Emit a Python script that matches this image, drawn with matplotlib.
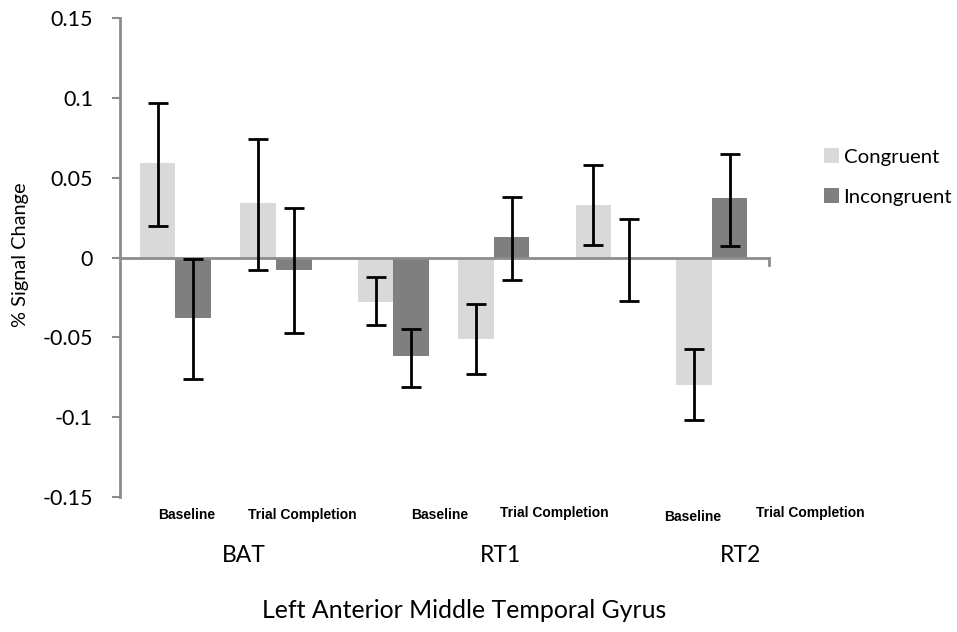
import numpy as np
import matplotlib
matplotlib.use("Agg")
import matplotlib.pyplot as plt

plt.rcParams["font.family"] = ["Lato", "DejaVu Sans"]

# ── Data ─────────────────────────────────────────────
conditions  = ["Baseline", "Trial Completion"] * 3
tasks       = ["BAT", "RT1", "RT2"]
congruent   = [0.059, 0.034, -0.028, -0.051, 0.033, -0.080]
cong_lo     = [0.020, -0.008, -0.042, -0.073, 0.008, -0.102]
cong_hi     = [0.097, 0.074, -0.012, -0.029, 0.058, -0.057]
incongruent = [-0.038, -0.008, -0.062, 0.013, 0.000, 0.037]
incong_lo   = [-0.076, -0.047, -0.081, -0.014, -0.027, 0.007]
incong_hi   = [-0.001, 0.031, -0.045, 0.038, 0.024, 0.065]

C_COL = "#d9d9d9"
I_COL = "#7f7f7f"
AX_COL = "#8c8c8c"

W, H = 957, 632
fig = plt.figure(figsize=(W / 100, H / 100), dpi=100)
ax = fig.add_axes([120 / W, 1 - 497 / H, 650 / W, 479 / H])

# bar pairs; tasks are spaced a bit wider than conditions
x = np.arange(6) + np.repeat(np.arange(3), 2) * 0.17
bw = 0.355

cong = np.array(congruent)
inc = np.array(incongruent)
c_err = [cong - np.array(cong_lo), np.array(cong_hi) - cong]
i_err = [inc - np.array(incong_lo), np.array(incong_hi) - inc]

ax.bar(x - bw / 2, cong, bw, color=C_COL, label="Congruent", zorder=2)
ax.bar(x + bw / 2, inc, bw, color=I_COL, label="Incongruent", zorder=2)
ax.errorbar(x - bw / 2, cong, yerr=c_err, fmt="none", ecolor="black",
            elinewidth=2, capsize=7, capthick=2, zorder=4)
ax.errorbar(x + bw / 2, inc, yerr=i_err, fmt="none", ecolor="black",
            elinewidth=2, capsize=7, capthick=2, zorder=4)

xmin, xmax = x[0] - 0.552, x[-1] + 0.58
ax.set_xlim(xmin, xmax)
ax.set_ylim(-0.15, 0.15)

# zero line with small end tick
ax.axhline(0, color=AX_COL, lw=2, zorder=3)
ax.plot([xmax - 0.01, xmax - 0.01], [0, -0.0045], color=AX_COL, lw=2,
        clip_on=False, zorder=3)

for s in ["top", "right", "bottom"]:
    ax.spines[s].set_visible(False)
ax.spines["left"].set_color(AX_COL)
ax.spines["left"].set_linewidth(2)

ax.set_yticks([-0.15, -0.1, -0.05, 0, 0.05, 0.1, 0.15])
ax.set_yticklabels(["-0.15", "-0.1", "-0.05", "0", "0.05", "0.1", "0.15"])
ax.tick_params(axis="y", length=6, width=1.5, color=AX_COL, labelsize=15.5,
               pad=13.5)
ax.set_xticks([])

fig.text(21 / W, 1 - 255 / H, "% Signal Change", rotation=90,
         ha="center", va="center", fontsize=14.4)

# condition labels (placed by hand, like the original)
cond_px = [187, 302, 440, 554, 693, 810]
cond_py = [515, 515, 515, 513, 517, 513]
for lab, px, py in zip(conditions, cond_px, cond_py):
    fig.text(px / W, 1 - py / H, lab, ha="center", va="center",
             fontsize=10, fontweight="bold",
             family=["Liberation Sans Narrow", "Liberation Sans"])

task_px = [244, 500, 740]
for lab, px in zip(tasks, task_px):
    fig.text(px / W, 1 - 556 / H, lab, ha="center", va="center",
             fontsize=16.5)

fig.text(464 / W, 1 - 611 / H, "Left Anterior Middle Temporal Gyrus",
         ha="center", va="center", fontsize=17.9)

ax.legend(loc="upper left", bbox_to_anchor=(816 / W, 1 - 140 / H),
          bbox_transform=fig.transFigure, frameon=False, fontsize=14.7,
          handlelength=0.75, handleheight=0.75, handletextpad=0.2,
          labelspacing=1.1, borderaxespad=0)

fig.savefig("out.png", dpi=100)
